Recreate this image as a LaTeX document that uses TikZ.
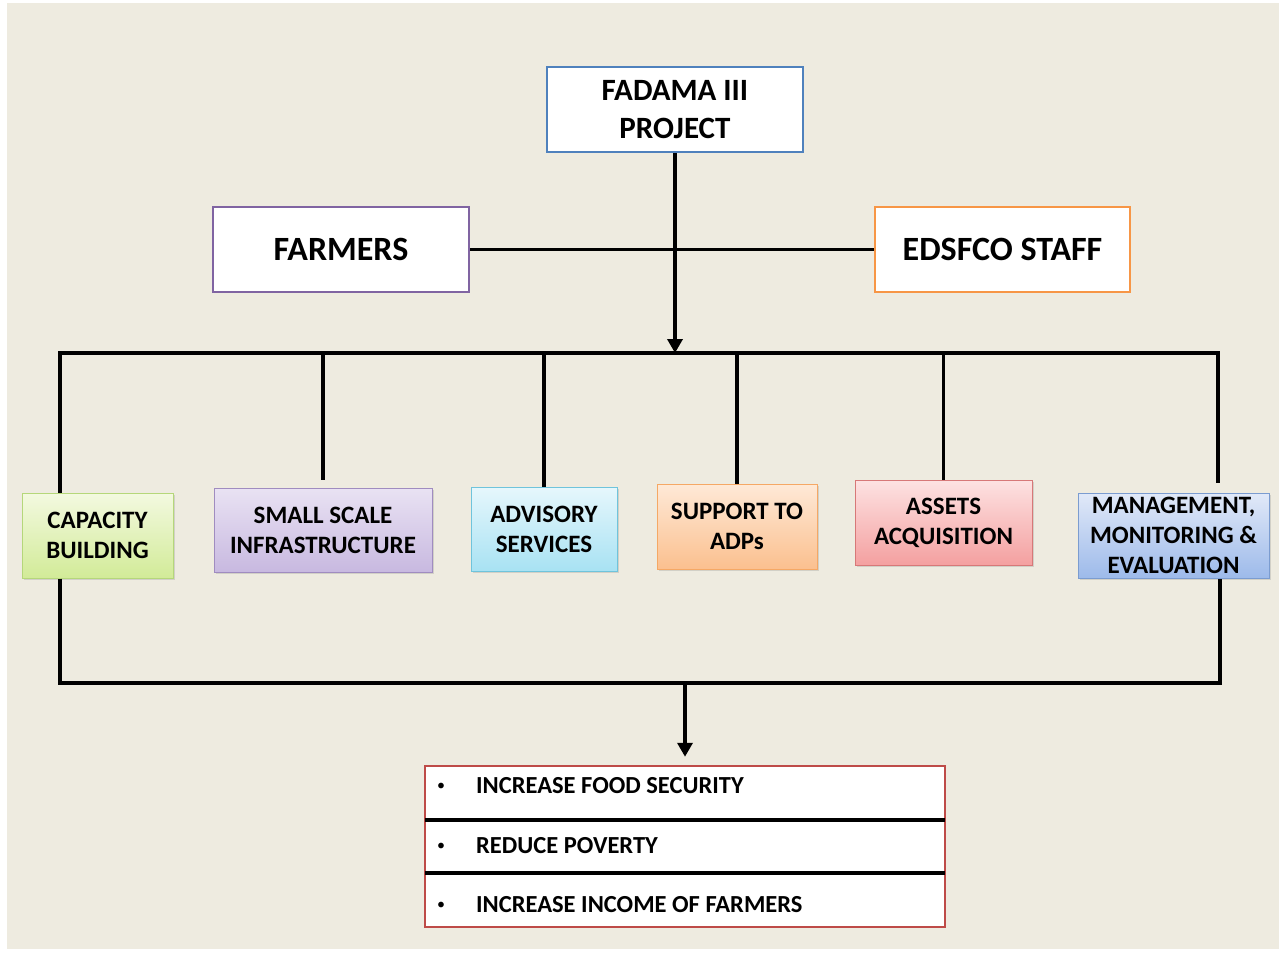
\documentclass[tikz,border=0pt]{standalone}
\usepackage{fontspec}
\setmainfont{Carlito}
\usetikzlibrary{arrows.meta,shadows,calc}
\definecolor{bg}{HTML}{EEEBE0}
\definecolor{fadblue}{HTML}{4F81BD}
\definecolor{farmpurple}{HTML}{8064A2}
\definecolor{edsorange}{HTML}{F79646}
\definecolor{outred}{HTML}{BE4B48}
\definecolor{capT}{HTML}{F3F9E0}\definecolor{capB}{HTML}{D2EB98}\definecolor{capD}{HTML}{B5D77A}
\definecolor{ssiT}{HTML}{E9E2F3}\definecolor{ssiB}{HTML}{C8B9E0}\definecolor{ssiD}{HTML}{A08CC0}
\definecolor{advT}{HTML}{E6F7FC}\definecolor{advB}{HTML}{A8E2F3}\definecolor{advD}{HTML}{6FC4DC}
\definecolor{supT}{HTML}{FEE9D7}\definecolor{supB}{HTML}{FBC08F}\definecolor{supD}{HTML}{F5A865}
\definecolor{astT}{HTML}{FDE2E2}\definecolor{astB}{HTML}{F4A0A0}\definecolor{astD}{HTML}{D77878}
\definecolor{mmtT}{HTML}{E1E9F8}\definecolor{mmtB}{HTML}{9DBAEA}\definecolor{mmtD}{HTML}{7B9CD0}
\begin{document}
\begin{tikzpicture}[x=1pt,y=-1pt,
  conn/.style={line width=3.5pt,draw=black},
  arr/.style={conn,-{Triangle[length=14pt,width=15pt]}},
  topbox/.style={draw,line width=2.5pt,fill=white,inner sep=0pt,align=center,
    minimum width=256pt,minimum height=85pt},
  colbox/.style={draw,line width=1pt,inner sep=0pt,align=center,
    font=\bfseries\fontsize{25}{30}\selectfont,
    drop shadow={opacity=0.25,shadow xshift=2pt,shadow yshift=-2pt}},
  outtext/.style={anchor=west,inner sep=0pt,font=\bfseries\fontsize{24.5}{28}\selectfont},
  bullet/.style={inner sep=0pt,font=\fontsize{16}{18}\selectfont},
]
\useasboundingbox (0,0) rectangle (1285,953);
\fill[white] (0,0) rectangle (1285,953);
\fill[bg] (7,3) rectangle (1279,949);

% top level
\node[topbox,draw=fadblue,font=\bfseries\fontsize{31}{38}\selectfont] (fad) at (675,109.5) {FADAMA III\\PROJECT};
\node[topbox,draw=farmpurple,font=\bfseries\fontsize{34}{40}\selectfont] (farm) at (341,249.5) {FARMERS};
\node[topbox,draw=edsorange,font=\bfseries\fontsize{34}{40}\selectfont,minimum width=255pt] (eds) at (1002.5,249.5) {EDSFCO STAFF};

% coloured boxes
\node[colbox,draw=capD,top color=capT,bottom color=capB,
  minimum width=151pt,minimum height=85pt] (cap) at (97.5,535.5) {CAPACITY\\BUILDING};
\node[colbox,draw=ssiD,top color=ssiT,bottom color=ssiB,
  minimum width=218pt,minimum height=84pt] (ssi) at (323,530) {SMALL SCALE\\INFRASTRUCTURE};
\node[colbox,draw=advD,top color=advT,bottom color=advB,
  minimum width=146pt,minimum height=84pt] (adv) at (544,529) {ADVISORY\\SERVICES};
\node[colbox,draw=supD,top color=supT,bottom color=supB,
  minimum width=160pt,minimum height=85pt] (sup) at (737,526.5) {SUPPORT TO\\ADPs};
\node[colbox,draw=astD,top color=astT,bottom color=astB,
  minimum width=177pt,minimum height=85pt] (ast) at (943.5,522.5) {ASSETS\\ACQUISITION};
\node[colbox,draw=mmtD,top color=mmtT,bottom color=mmtB,
  minimum width=191pt,minimum height=85pt] (mmt) at (1173.5,535.5) {MANAGEMENT,\\MONITORING \&\\EVALUATION};

% output box
\node[draw=outred,line width=2.5pt,fill=white,minimum width=520pt,minimum height=161pt,inner sep=0pt] (out) at (685,846.5) {};
\coordinate (d1l) at (425,820); \coordinate (d1r) at (945,820);
\coordinate (d2l) at (425,873); \coordinate (d2r) at (945,873);
\draw[line width=3.5pt] (d1l) -- (d1r);
\draw[line width=3.5pt] (d2l) -- (d2r);
\node[bullet] (b1) at (441,787) {•};
\node[outtext] (t1) at (476,786) {INCREASE FOOD SECURITY};
\node[bullet] (b2) at (441,847) {•};
\node[outtext] (t2) at (476,846) {REDUCE POVERTY};
\node[bullet] (b3) at (441,906) {•};
\node[outtext] (t3) at (476,905) {INCREASE INCOME OF FARMERS};

% connectors
\coordinate (bl) at (60,353);
\coordinate (br) at (1218,353);
\coordinate (ll) at (60,683);
\coordinate (lr) at (1220,683);
\coordinate (lm) at (685,683);
\draw[conn] (farm.east) -- (eds.west);
\draw[arr] (fad.south) -- (fad.south |- bl);
\draw[conn] (cap.north -| bl) -- (bl) -- (br) -- ($(mmt.north -| br)+(0,-10)$);
\draw[conn] (ssi.north |- bl) -- ($(ssi.north)+(0,-8)$);
\draw[conn] (adv.north |- bl) -- (adv.north);
\draw[conn] (sup.north |- bl) -- (sup.north);
\draw[conn] (ast.north |- bl) -- (ast.north);
\draw[conn] (cap.south -| ll) -- (ll) -- (lr) -- (mmt.south -| lr);
\draw[arr,shorten >=8pt] (lm) -- (lm |- out.north);
\end{tikzpicture}
\end{document}
